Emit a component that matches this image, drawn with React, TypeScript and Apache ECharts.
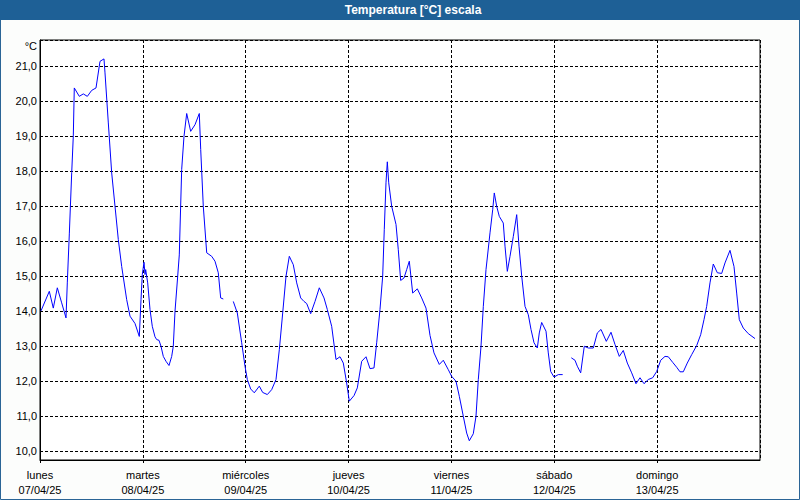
import React, { useEffect, useRef } from "react";
import * as echarts from "echarts";

const title = "Temperatura [°C] escala";
const unitLabel = "°C";
const dayNames = ["lunes", "martes", "miércoles", "jueves", "viernes", "sábado", "domingo"];
const dayDates = ["07/04/25", "08/04/25", "09/04/25", "10/04/25", "11/04/25", "12/04/25", "13/04/25"];

// hours since 07/04/25 00:00
const hours = [
  0.23, 2.17, 3.1, 4.04, 5.06, 6.07, 6.37, 6.84, 7.4, 7.77, 8.0, 9.17, 10.1, 11.04, 12.06, 13.07, 14.0, 14.93, 15.17,
  15.94, 16.73, 17.5, 18.27, 19.06, 20.23, 21.0, 22.17, 23.17, 23.57, 23.87, 24.27, 24.5, 24.66, 25.13, 25.67, 26.2,
  26.83, 27.23, 27.77, 28.23, 28.77, 29.4, 30.1, 30.73, 31.1, 31.5, 32.13, 32.5, 33.06, 33.6, 34.23, 35.16, 36.17,
  37.17, 37.5, 38.1, 38.9, 40.06, 40.83, 41.6, 42.16, 42.77,
  44.0,
  45.1, 46.04, 47.06, 47.83, 48.37, 49.16, 50.0, 51.17, 51.96, 53.04, 54.06, 55.07, 55.84, 56.63, 57.4, 58.17, 59.1,
  59.9, 60.83, 61.6, 62.23, 63.16, 64.17, 65.17, 66.27, 67.04, 68.06, 69.07, 70.0, 70.77, 71.56, 72.17, 73.27, 74.04,
  75.06, 76.07, 77.0, 77.93, 78.56, 79.33, 79.96, 80.33, 80.73, 81.04, 81.37, 82.06, 83.07, 83.6, 84.16, 84.93, 85.56,
  86.17, 86.96, 88.04, 89.06, 90.07, 91.0, 91.93, 93.17, 94.1, 95.27, 96.06, 97.07, 97.84, 98.77, 99.56, 100.17,
  101.1, 101.73, 102.27, 102.9, 103.44, 104.07, 105.0, 105.63, 106.0, 106.56, 107.17, 108.1, 108.5, 109.04, 109.67,
  110.44, 111.23, 111.77, 112.4, 113.17, 113.94, 114.57, 115.27, 116.04, 116.5, 117.06, 118.07, 118.6, 119.16,
  119.93, 120.94, 121.96,
  123.0,
  123.97, 124.83, 125.37, 126.16, 127.0, 127.94, 129.1, 130.04, 130.9, 132.14, 133.23, 134.17, 135.17, 136.1, 137.04,
  138.06, 139.07, 140.0, 140.93, 141.94, 142.96, 143.9, 144.83, 145.83, 146.6, 147.63, 148.56, 149.33, 150.1, 151.03,
  152.06, 153.23, 154.16, 154.93, 155.56, 156.33, 157.1, 158.04, 159.06, 159.83, 161.0, 161.93, 162.56, 163.17,
  164.1, 165.27, 166.83,
];

const temps: (number | null)[] = [
  14.0, 14.56, 14.08, 14.66, 14.23, 13.8, 14.8, 16.2, 17.95, 19.0, 20.37, 20.13, 20.2, 20.13, 20.3, 20.37, 21.13, 21.2,
  20.8, 19.37, 17.94, 16.99, 16.04, 15.27, 14.32, 13.85, 13.64, 13.27, 14.32, 15.04, 15.39, 15.04, 15.18, 14.8, 14.04,
  13.56, 13.26, 13.18, 13.16, 12.99, 12.7, 12.56, 12.44, 12.7, 12.99, 13.99, 14.99, 15.6, 18.04, 18.99, 19.64, 19.13,
  19.32, 19.64, 18.61, 16.99, 15.66, 15.56, 15.42, 15.09, 14.37, 14.34,
  null,
  14.27, 13.94, 13.09, 12.42, 12.04, 11.77, 11.66, 11.85, 11.67, 11.61, 11.75, 12.04, 12.89, 13.94, 14.99, 15.56, 15.32,
  14.8, 14.37, 14.27, 14.21, 13.92, 14.27, 14.66, 14.37, 14.04, 13.56, 12.61, 12.69, 12.51, 11.94, 11.42, 11.58, 11.8,
  12.56, 12.69, 12.35, 12.37, 13.09, 14.04, 14.99, 16.32, 17.66, 18.26, 17.66, 16.99, 16.47, 15.75, 14.87, 14.94, 15.18,
  15.42, 14.51, 14.63, 14.37, 14.08, 13.3, 12.8, 12.47, 12.59, 12.32, 12.13, 11.99, 11.56, 10.99, 10.51, 10.29,
  10.49, 10.99, 12.04, 12.99, 14.13, 15.18, 16.23, 16.89, 17.37, 16.99, 16.7, 16.51, 15.85, 15.13, 15.56,
  16.13, 16.75, 15.85, 14.99, 14.13, 13.89, 13.47, 13.09, 12.94, 13.37, 13.67, 13.42, 12.8, 12.27,
  12.11, 12.18, 12.18,
  null,
  12.66, 12.59, 12.42, 12.23, 12.99, 12.94, 12.94, 13.37, 13.47, 13.13, 13.39, 13.04, 12.7, 12.87, 12.51,
  12.23, 11.92, 12.09, 11.92, 12.04, 12.09, 12.27, 12.59, 12.7, 12.69, 12.53, 12.39, 12.26, 12.26, 12.51,
  12.75, 13.01, 13.32, 13.75, 14.13, 14.8, 15.34, 15.09, 15.07, 15.37, 15.73, 15.27, 14.51, 13.75,
  13.51, 13.35, 13.21,
];

const FONT = "'Liberation Sans', Arial, sans-serif";

export default function App() {
  const ref = useRef<HTMLDivElement>(null);
  useEffect(() => {
    document.body.style.margin = "0";
    if (!ref.current) return;
    const chart = echarts.init(ref.current, null, { renderer: "svg" });
    const data = hours.map((h, i) => [h, temps[i] === null ? "-" : temps[i]]);
    chart.setOption({
      animation: false,
      backgroundColor: "#fcfdfc",
      textStyle: { fontFamily: FONT },
      graphic: [
        {
          type: "rect",
          shape: { x: 0.5, y: 0.5, width: 799, height: 499 },
          style: { fill: "none", stroke: "#2a6496", lineWidth: 1 },
          z: 10,
        },
        {
          type: "rect",
          shape: { x: 0, y: 0, width: 800, height: 20 },
          style: { fill: "#1e6096" },
          z: 11,
        },
        {
          type: "text",
          x: 413,
          y: 10,
          style: {
            text: title,
            fill: "#ffffff",
            font: `bold 12px ${FONT}`,
            textAlign: "center",
            textVerticalAlign: "middle",
          },
          z: 12,
        },
        {
          type: "text",
          x: 37,
          y: 46,
          style: {
            text: unitLabel,
            fill: "#000000",
            font: `11px ${FONT}`,
            textAlign: "right",
            textVerticalAlign: "middle",
          },
          z: 12,
        },
      ],
      grid: {
        left: 40,
        right: 40,
        top: 40,
        bottom: 40,
        show: true,
        backgroundColor: "#ffffff",
        borderColor: "#000000",
        borderWidth: 1,
      },
      xAxis: {
        type: "value",
        min: 0,
        max: 168,
        interval: 24,
        axisLine: { show: true, lineStyle: { color: "#000000", width: 1 } },
        axisTick: { show: true, length: 3, lineStyle: { color: "#000000" } },
        splitLine: { show: true, lineStyle: { color: "#000000", type: [3, 2], width: 1 } },
        axisLabel: {
          show: true,
          color: "#000000",
          fontSize: 11,
          fontFamily: FONT,
          lineHeight: 15,
          margin: 7,
          showMaxLabel: false,
          formatter: (v: number) => {
            const i = Math.round(v / 24);
            if (i < 0 || i >= dayNames.length) return "";
            return dayNames[i] + "\n" + dayDates[i];
          },
        },
      },
      yAxis: {
        type: "value",
        min: 9.74,
        max: 21.74,
        splitNumber: 12,
        axisLine: { show: true, lineStyle: { color: "#000000", width: 1 } },
        axisTick: { show: false },
        splitLine: { show: true, lineStyle: { color: "#000000", type: [3, 2], width: 1 } },
        axisLabel: {
          show: true,
          color: "#000000",
          fontSize: 11,
          fontFamily: FONT,
          margin: 3,
          showMinLabel: false,
          showMaxLabel: false,
          formatter: (v: number) => {
            if (Math.abs(v - Math.round(v)) > 1e-6) return "";
            return v.toFixed(1).replace(".", ",");
          },
        },
      },
      series: [
        {
          type: "line",
          data,
          showSymbol: false,
          symbol: "none",
          connectNulls: false,
          lineStyle: { color: "#0000ff", width: 1 },
          itemStyle: { color: "#0000ff" },
        },
      ],
    });
    return () => chart.dispose();
  }, []);
  return <div ref={ref} style={{ width: 800, height: 500 }} />;
}
